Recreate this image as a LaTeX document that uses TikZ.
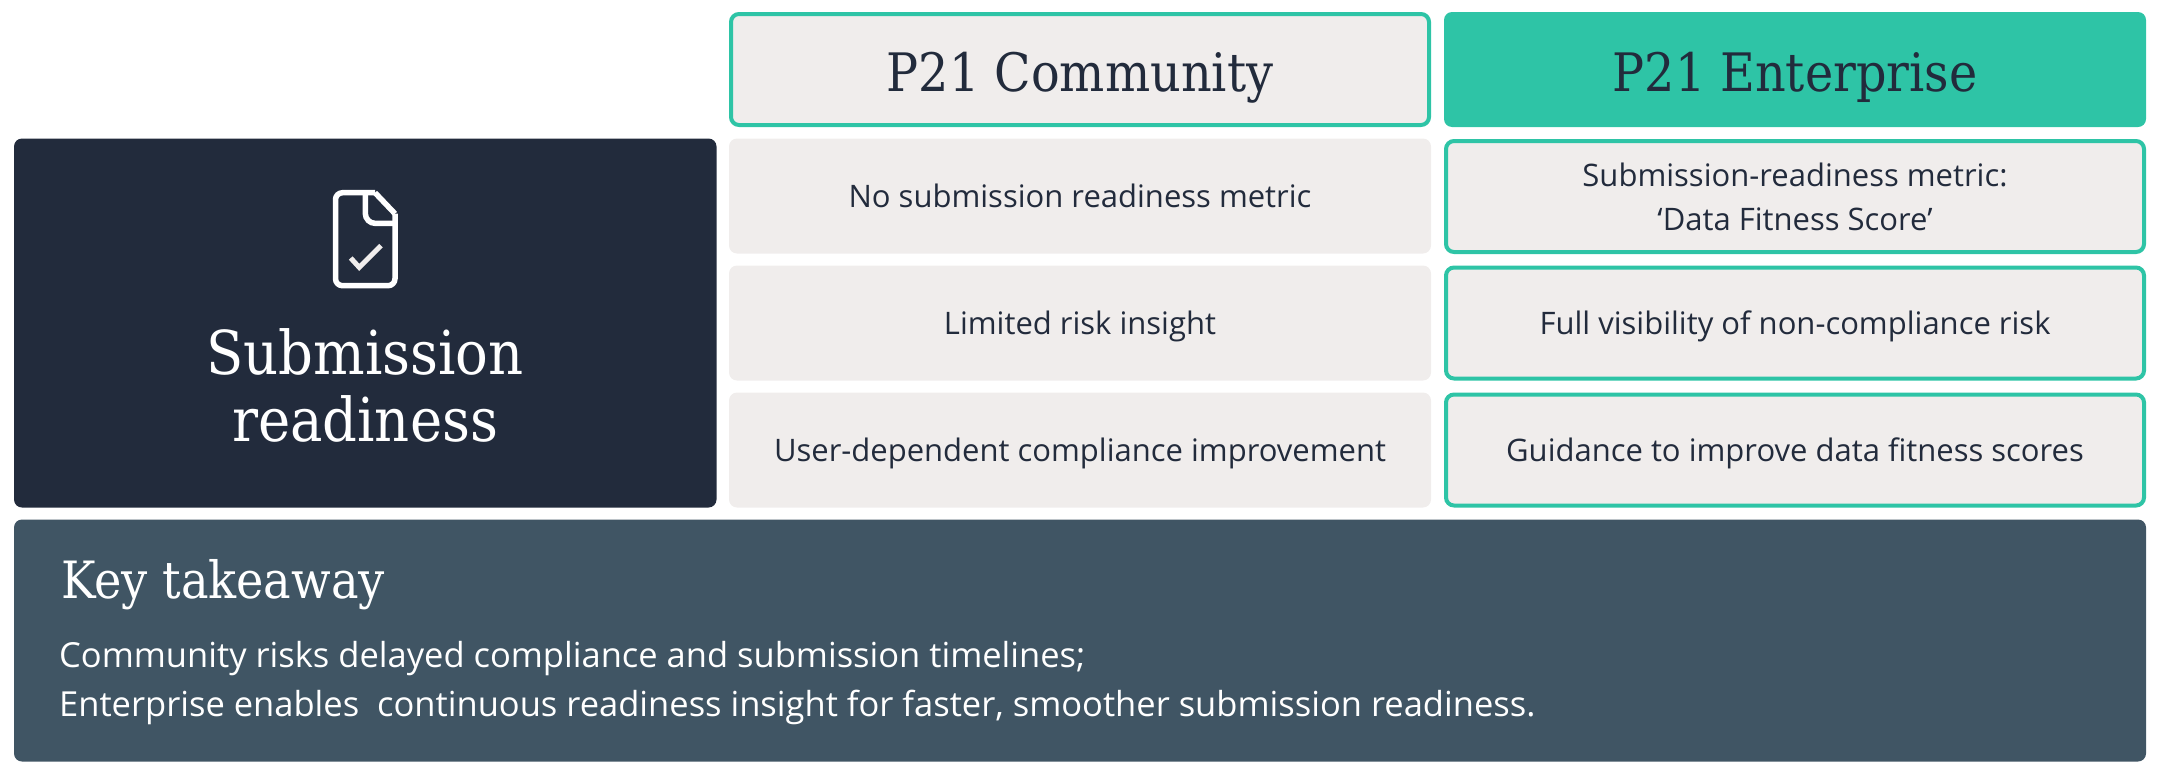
\documentclass[tikz,border=0pt]{standalone}
\usepackage{fontspec}
\setmainfont{Open Sans}
\newfontfamily\headfont{DejaVu Serif Condensed}
\definecolor{navy}{HTML}{222B3C}
\definecolor{slate}{HTML}{405564}
\definecolor{teal}{HTML}{2EC4A6}
\definecolor{paper}{HTML}{F0EDEC}
\tikzset{
    plaincell/.style={fill=paper, text=navy, rounded corners=8pt, minimum width=702pt, minimum height=115pt, inner sep=0pt, align=center, text height=33.5pt, text depth=10pt, font=\fontsize{31}{44}\selectfont},
    tealcell/.style={plaincell, draw=teal, line width=4pt, minimum width=698pt, minimum height=111pt},
    headtext/.style={text height=63pt, text depth=20pt, font=\headfont\fontsize{53}{60}\selectfont}
}
\begin{document}
\begin{tikzpicture}[x=1pt,y=-1pt]
    \useasboundingbox (0,0) rectangle (2161,777);
    % column headers
    \node[tealcell, headtext] (community) at (1080,69.5) {P21 Community};
    \node[plaincell, headtext, fill=teal] (enterprise) at (1795,69.5) {P21 Enterprise};
    % left panel
    \node[fill=navy, rounded corners=8pt, minimum width=702.5pt, minimum height=369pt] (panel) at (365.25,323) {};
    \node[anchor=base, text=white, font=\headfont\fontsize{60.5}{60}\selectfont] (submission) at (365,374) {Submission};
    \node[anchor=base, text=white, font=\headfont\fontsize{60.5}{60}\selectfont] (readiness) at (365,441) {readiness};
    % document icon
    \draw[white, line width=5.5pt, line join=round, rounded corners=7pt] (375,192.7) -- (335.5,192.7) -- (335.5,285.7) -- (395,285.7) -- (395,213.7);
    \draw[white, line width=5.5pt, line join=round] (375,192.7) -- (395,213.7);
    \draw[white, line width=5.5pt, rounded corners=10pt] (365.3,192.7) -- (365.3,223.4) -- (395,223.4);
    \draw[paper, line width=5pt] (350.7,258) -- (359.3,267.4) -- (381,245.7);
    % rows
    \node[plaincell] (ca) at (1080,196) {No submission readiness metric};
    \node[plaincell] (cb) at (1080,323) {Limited risk insight};
    \node[plaincell] (cc) at (1080,450) {User-dependent compliance improvement};
    \node[tealcell, text height=, text depth=] (ea) at (1795,196.5) {\rule{0pt}{25pt}Submission-readiness metric:\\`Data Fitness Score'};
    \node[tealcell] (eb) at (1795,323) {Full visibility of non-compliance risk};
    \node[tealcell] (ec) at (1795,450) {Guidance to improve data fitness scores};
    % takeaway
    \node[fill=slate, rounded corners=8pt, minimum width=2132pt, minimum height=242pt] (takeaway) at (1080,640.5) {};
    \node[anchor=base west, inner sep=0pt, text=white, font=\headfont\fontsize{51.4}{60}\selectfont] (keytitle) at (61,598.5) {Key takeaway};
    \node[anchor=base west, inner sep=0pt, text=white, font=\fontsize{34.5}{48}\selectfont] (keyone) at (59,667.5) {Community risks delayed compliance and submission timelines;};
    \node[anchor=base west, inner sep=0pt, text=white, font=\fontsize{34.5}{48}\selectfont] (keytwo) at (59,716) {Enterprise enables\ \ continuous readiness insight for faster, smoother submission readiness.};
\end{tikzpicture}
\end{document}
